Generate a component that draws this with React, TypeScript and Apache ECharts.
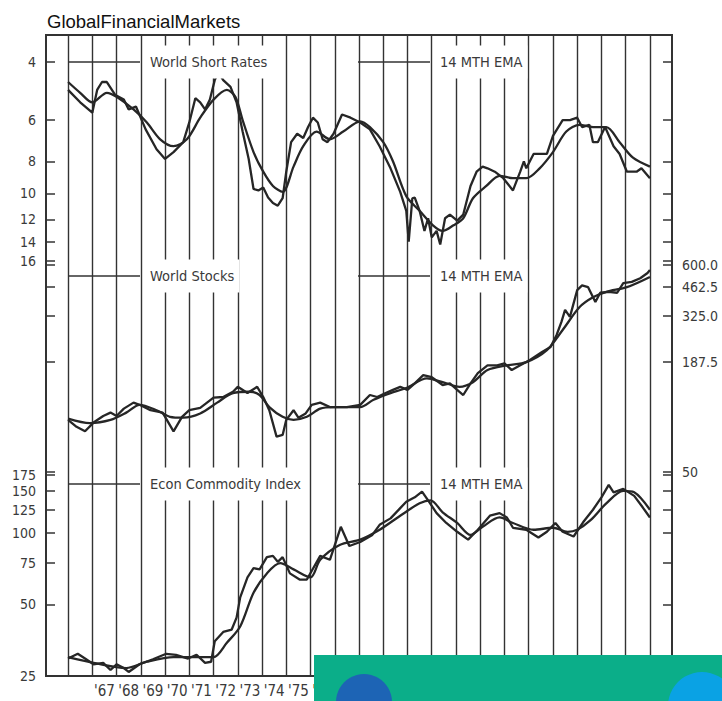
import React, { useEffect, useRef } from 'react';
import * as echarts from 'echarts';

const YEARS = [1966, 1967, 1968, 1969, 1970, 1971, 1972, 1973, 1974, 1975, 1976, 1977, 1978, 1979, 1980, 1981, 1982, 1983, 1984, 1985, 1986, 1987, 1988, 1989, 1990];
const YEAR_LABEL_POS = [1967.5, 1968.5, 1969.5, 1970.5, 1971.5, 1972.5, 1973.5, 1974.5, 1975.5, 1976.5, 1977.5, 1978.5, 1979.5, 1980.5, 1981.5, 1982.5, 1983.5, 1984.5, 1985.5, 1986.5, 1987.5, 1988.5, 1989.5];
const RATE_TICKS = [4, 6, 8, 10, 12, 14, 16];
const STOCK_TICKS = [50, 187.5, 325, 462.5, 600];
const COMMODITY_TICKS = [25, 50, 75, 100, 125, 150, 175];

const shortRatesRaw: [number, number][] = [
  [1966.0, 4.86], [1966.5, 5.3], [1967.0, 5.7], [1967.2, 4.86], [1967.4, 4.6], [1967.6, 4.6], [1967.95, 5.04], [1968.3, 5.2], [1968.5, 5.57], [1968.8, 5.46],
  [1969.2, 6.4], [1969.65, 7.35], [1970.0, 7.87], [1970.35, 7.5], [1970.75, 7.0], [1971.0, 6.1], [1971.25, 5.15], [1971.45, 5.3], [1971.65, 5.57], [1971.85, 5.2],
  [1972.05, 4.54], [1972.2, 4.3], [1972.4, 4.54], [1972.7, 4.76], [1972.95, 5.3], [1973.2, 6.5], [1973.45, 7.87], [1973.65, 9.7], [1973.85, 9.8], [1974.05, 9.6],
  [1974.25, 10.3], [1974.45, 10.7], [1974.65, 10.9], [1974.85, 10.35], [1975.0, 8.6], [1975.2, 7.0], [1975.45, 6.6], [1975.7, 6.8], [1975.9, 6.3], [1976.1, 5.9],
  [1976.3, 6.1], [1976.5, 6.86], [1976.7, 7.0], [1976.95, 6.6], [1977.3, 5.77], [1977.65, 5.9], [1978.05, 6.1], [1978.45, 6.4], [1978.85, 7.2], [1979.3, 8.4],
  [1979.7, 9.9], [1979.95, 11.3], [1980.05, 14.0], [1980.2, 10.35], [1980.3, 10.3], [1980.5, 11.3], [1980.7, 13.0], [1980.85, 11.9], [1981.0, 13.6], [1981.2, 13.0],
  [1981.35, 14.3], [1981.55, 11.9], [1981.75, 11.6], [1982.05, 12.1], [1982.3, 11.6], [1982.6, 9.5], [1982.85, 8.6], [1983.1, 8.3], [1983.3, 8.4], [1983.6, 8.6],
  [1983.95, 9.0], [1984.35, 9.8], [1984.65, 8.6], [1984.8, 8.0], [1984.9, 8.4], [1985.2, 7.6], [1985.4, 7.6], [1985.75, 7.6], [1986.0, 6.7], [1986.4, 6.0],
  [1986.7, 6.0], [1987.0, 5.9], [1987.2, 6.3], [1987.5, 6.2], [1987.65, 7.0], [1987.85, 7.0], [1988.15, 6.3], [1988.5, 7.2], [1988.75, 7.6], [1989.05, 8.6],
  [1989.45, 8.6], [1989.65, 8.4], [1990.0, 9.0],
];
const shortRatesEma: [number, number][] = [
  [1966.0, 4.6], [1966.5, 4.96], [1967.0, 5.3], [1967.6, 4.96], [1968.0, 5.1], [1968.7, 5.57], [1969.25, 6.1], [1969.8, 6.86], [1970.35, 7.2], [1970.9, 6.86],
  [1971.45, 5.9], [1972.0, 5.2], [1972.55, 4.86], [1972.9, 5.1], [1973.2, 6.0], [1973.65, 7.5], [1974.05, 8.6], [1974.45, 9.5], [1974.85, 9.9], [1975.3, 8.3],
  [1975.7, 7.2], [1976.25, 6.5], [1976.8, 6.86], [1977.35, 6.5], [1978.05, 6.05], [1978.45, 6.3], [1979.0, 7.0], [1979.4, 8.0], [1979.95, 10.2], [1980.5, 11.3],
  [1981.05, 12.5], [1981.45, 13.0], [1981.9, 12.5], [1982.3, 11.9], [1982.7, 10.35], [1983.25, 9.5], [1983.8, 8.85], [1984.35, 9.0], [1984.9, 9.0], [1985.45, 8.4],
  [1986.0, 7.5], [1986.55, 6.5], [1987.1, 6.2], [1987.65, 6.3], [1988.2, 6.3], [1988.75, 7.0], [1989.3, 7.8], [1990.0, 8.3],
];

const stocksRaw: [number, number][] = [
  [1966.0, 93.5], [1966.35, 86], [1966.7, 81.5], [1967.05, 90.5], [1967.45, 98], [1967.75, 102], [1968.0, 98], [1968.3, 107], [1968.7, 115], [1968.95, 112],
  [1969.4, 105], [1969.9, 102], [1970.35, 81.5], [1970.7, 97], [1971.0, 105], [1971.45, 108], [1972.0, 122], [1972.4, 123], [1972.8, 131], [1973.0, 139],
  [1973.4, 129], [1973.8, 139], [1974.05, 123], [1974.3, 105], [1974.6, 76.5], [1974.85, 78], [1975.0, 93.5], [1975.3, 105], [1975.5, 96], [1975.8, 101],
  [1976.05, 112], [1976.4, 115], [1976.8, 109], [1977.5, 109], [1978.05, 112], [1978.45, 126], [1978.75, 123], [1979.1, 129], [1979.4, 134], [1979.7, 139],
  [1980.0, 134], [1980.3, 145], [1980.65, 160], [1981.0, 156], [1981.45, 142], [1981.75, 145], [1982.05, 134], [1982.3, 126], [1982.6, 145], [1982.9, 164],
  [1983.3, 180], [1983.7, 180], [1984.0, 184], [1984.3, 170], [1984.65, 180], [1985.05, 192], [1985.55, 211], [1985.9, 224], [1986.15, 259], [1986.35, 303],
  [1986.5, 350], [1986.7, 322], [1987.0, 444], [1987.2, 470], [1987.45, 460], [1987.75, 385], [1987.95, 430], [1988.3, 435], [1988.65, 430], [1988.9, 483],
  [1989.25, 490], [1989.6, 512], [1989.9, 545], [1990.0, 565],
];
const stocksEma: [number, number][] = [
  [1966.0, 95], [1966.9, 90], [1967.75, 93.5], [1968.4, 102], [1968.95, 112], [1969.65, 105], [1970.2, 97], [1970.75, 96], [1971.45, 101], [1972.15, 115],
  [1972.8, 129], [1973.5, 131], [1973.9, 126], [1974.3, 109], [1974.85, 97], [1975.3, 93.5], [1975.85, 97], [1976.4, 107], [1976.95, 109], [1978.05, 109],
  [1978.6, 119], [1979.3, 129], [1979.95, 137], [1980.8, 154], [1981.45, 147], [1982.15, 139], [1982.7, 147], [1983.3, 170], [1984.1, 180], [1984.9, 187],
  [1985.75, 216], [1986.4, 275], [1987.1, 362], [1987.65, 407], [1988.2, 435], [1989.05, 460], [1990.0, 520],
];

const commodityRaw: [number, number][] = [
  [1966.0, 29.6], [1966.4, 31], [1966.7, 29.6], [1967.05, 28], [1967.45, 28.4], [1967.75, 26.5], [1968.0, 28], [1968.3, 27], [1968.5, 26], [1968.95, 28],
  [1969.5, 29.4], [1970.05, 31], [1970.45, 30.7], [1970.95, 29.6], [1971.3, 30.7], [1971.65, 28.4], [1971.9, 28.7], [1972.05, 35], [1972.4, 38.3], [1972.75, 39.2],
  [1972.95, 44], [1973.1, 53.5], [1973.4, 65], [1973.65, 71], [1973.9, 70.2], [1974.2, 79], [1974.45, 80], [1974.65, 75.5], [1974.85, 79], [1975.15, 67.5],
  [1975.55, 63.6], [1975.85, 63.6], [1976.4, 80], [1976.8, 77], [1977.25, 106], [1977.6, 88], [1978.05, 91.5], [1978.55, 98], [1978.85, 108], [1979.3, 115],
  [1979.7, 127], [1979.95, 135], [1980.3, 141], [1980.6, 149], [1980.85, 137], [1981.2, 121], [1981.6, 110], [1982.05, 101], [1982.5, 93.6], [1982.9, 103],
  [1983.4, 118], [1983.8, 121], [1984.1, 116], [1984.35, 105], [1984.9, 103], [1985.4, 95.5], [1985.75, 101], [1986.1, 110], [1986.4, 101], [1986.85, 96.5],
  [1987.25, 111], [1987.65, 125], [1988.0, 141], [1988.3, 159], [1988.5, 148], [1988.9, 153], [1989.35, 143], [1989.7, 128], [1990.0, 116],
];
const commodityEma: [number, number][] = [
  [1966.0, 30], [1967.05, 28.4], [1968.4, 27], [1969.25, 28.7], [1970.35, 30], [1971.45, 30], [1972.0, 30], [1972.55, 34.5], [1973.1, 40.4], [1973.65, 56],
  [1974.2, 67.5], [1974.75, 74.5], [1975.3, 70.2], [1976.0, 65], [1976.4, 77], [1977.2, 88.9], [1978.05, 93.6], [1978.85, 103], [1979.7, 118], [1980.5, 133],
  [1980.95, 137], [1981.45, 122], [1982.05, 110], [1982.6, 98], [1983.1, 106], [1983.8, 116], [1984.35, 110], [1985.2, 103], [1986.0, 105], [1986.6, 101],
  [1987.0, 103], [1987.55, 113], [1988.2, 133], [1988.9, 150], [1989.35, 148], [1990.0, 125],
];

const FONT = '"Liberation Sans Narrow", "DejaVu Sans Condensed", sans-serif';
const INK = '#262626';
const AXIS_INK = '#333';

export default function App() {
  const ref = useRef<HTMLDivElement>(null);
  useEffect(() => {
    if (!ref.current) return;
    const chart = echarts.init(ref.current, undefined, { renderer: 'svg' });
    const X_MIN = 1965.09;
    const X_MAX = 1990.91;
    const gridBase = { left: 46, right: 50, outerBoundsMode: 'none' as any };
    const hiddenX = (gridIndex: number) => ({ type: 'value', gridIndex, min: X_MIN, max: X_MAX, show: false });
    const tickStyle = { show: true, inside: true, length: 9, lineStyle: { color: AXIS_INK, width: 1.5 } };
    const labelStyle = { color: '#3a3a3a', fontFamily: FONT, fontSize: 14, margin: 10 };
    const logAxis = (gridIndex: number, position: string, min: number, max: number, ticks: number[], showLabel: boolean, inverse: boolean, fmt?: (v: number) => string) => ({
      type: 'log', gridIndex, position, min, max, inverse, logBase: 10,
      axisLine: { show: false },
      axisTick: { ...tickStyle, customValues: ticks },
      axisLabel: { ...labelStyle, show: showLabel, customValues: ticks, formatter: fmt || ((v: number) => String(v)) },
      splitLine: { show: false },
    });
    const lineSeries = (name: string, data: [number, number][], xi: number, yi: number, smooth: number) => ({
      name, type: 'line', xAxisIndex: xi, yAxisIndex: yi, data, showSymbol: false, symbol: 'none', smooth,
      lineStyle: { color: INK, width: 2.3 }, silent: true,
    });
    const legendItem = (label: string, lineX1: number, lineX2: number, textX: number, y: number) => ([
      { type: 'line', z: 50, shape: { x1: lineX1, y1: y, x2: lineX2, y2: y }, style: { stroke: AXIS_INK, lineWidth: 1.4 } },
      { type: 'text', z: 60, x: textX - 5, y, style: { text: label, font: `14.5px ${FONT}`, fill: '#3a3a3a', verticalAlign: 'middle', backgroundColor: '#fff', padding: [9, 5] } },
    ]);
    chart.setOption({
      animation: false,
      backgroundColor: '#fff',
      title: { text: 'GlobalFinancialMarkets', left: 47, top: 12, padding: 0, textStyle: { fontFamily: '"Liberation Sans", Arial, sans-serif', fontSize: 18.5, fontWeight: 'normal', color: '#111' } },
      grid: [
        { ...gridBase, top: 35, bottom: 25, show: true, borderColor: AXIS_INK, borderWidth: 2, backgroundColor: 'transparent' },
        { ...gridBase, top: 35, bottom: 701 - 265 },
        { ...gridBase, top: 265, bottom: 701 - 472 },
        { ...gridBase, top: 475, bottom: 25 },
      ],
      xAxis: [
        {
          type: 'value', gridIndex: 0, min: X_MIN, max: X_MAX,
          axisLine: { show: false },
          axisTick: { show: false, customValues: YEARS },
          splitLine: { show: true, lineStyle: { color: AXIS_INK, width: 1.4 } },
          axisLabel: { ...labelStyle, fontSize: 15, margin: 7, customValues: YEAR_LABEL_POS, formatter: (v: number) => "'" + String(Math.floor(v)).slice(2) },
        },
        hiddenX(1), hiddenX(2), hiddenX(3),
      ],
      yAxis: [
        { type: 'value', gridIndex: 0, min: 0, max: 1, show: false },
        logAxis(1, 'left', 3.3138, 16.49, RATE_TICKS, true, true),
        logAxis(1, 'right', 3.3138, 16.49, RATE_TICKS, false, true),
        logAxis(2, 'left', 50, 600, STOCK_TICKS, false, false),
        logAxis(2, 'right', 50, 600, STOCK_TICKS, true, false, (v: number) => (v === 50 ? '50' : v.toFixed(1))),
        logAxis(3, 'left', 25, 175, COMMODITY_TICKS, true, false),
        logAxis(3, 'right', 25, 175, COMMODITY_TICKS, false, false),
      ],
      series: [
        lineSeries('World Short Rates', shortRatesRaw, 1, 1, 0),
        lineSeries('World Short Rates 14 MTH EMA', shortRatesEma, 1, 1, 0.3),
        lineSeries('World Stocks', stocksRaw, 2, 3, 0),
        lineSeries('World Stocks 14 MTH EMA', stocksEma, 2, 3, 0.3),
        lineSeries('Econ Commodity Index', commodityRaw, 3, 5, 0),
        lineSeries('Econ Commodity Index 14 MTH EMA', commodityEma, 3, 5, 0.3),
      ],
      graphic: [
        ...legendItem('World Short Rates', 68, 140, 150, 62),
        ...legendItem('14 MTH EMA', 358, 430, 440, 62),
        ...legendItem('World Stocks', 68, 140, 150, 276),
        ...legendItem('14 MTH EMA', 358, 430, 440, 276),
        ...legendItem('Econ Commodity Index', 68, 140, 150, 484),
        ...legendItem('14 MTH EMA', 358, 430, 440, 484),
        { type: 'rect', z: 100, shape: { x: 314, y: 655, width: 408, height: 46 }, style: { fill: '#0bae89' } },
        { type: 'circle', z: 101, shape: { cx: 364, cy: 702, r: 28 }, style: { fill: '#1d64b5' } },
        { type: 'circle', z: 101, shape: { cx: 702, cy: 706, r: 34 }, style: { fill: '#0aa2e4' } },
      ],
    });
    return () => chart.dispose();
  }, []);
  return <div ref={ref} style={{ position: 'fixed', left: 0, top: 0, width: 722, height: 701 }} />;
}
